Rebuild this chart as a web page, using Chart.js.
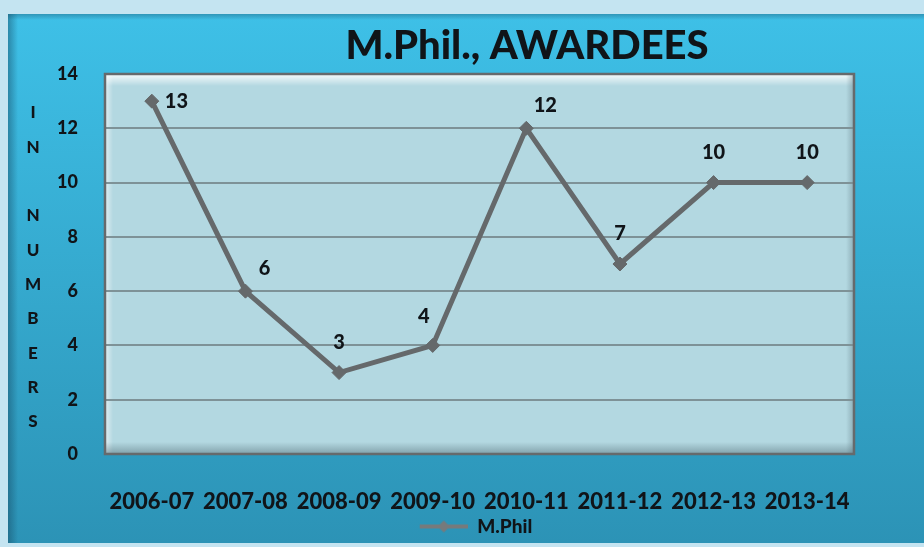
<!DOCTYPE html>
<html>
<head>
<meta charset="utf-8">
<title>M.Phil., AWARDEES</title>
<script src="https://cdn.jsdelivr.net/npm/chart.js@4.4.1/dist/chart.umd.min.js"></script>
<style>
    html, body { margin: 0; padding: 0; background: #c4e4f1; }
    #chart { display: block; }
</style>
</head>
<body>
<canvas id="chart" width="924" height="547"></canvas>
<script>
// ---- data ----
const years = ['2006-07', '2007-08', '2008-09', '2009-10', '2010-11', '2011-12', '2012-13', '2013-14'];
const awardees = [13, 6, 3, 4, 12, 7, 10, 10];
const yTicks = [0, 2, 4, 6, 8, 10, 12, 14];
const yTitleLetters = ['I', 'N', '', 'N', 'U', 'M', 'B', 'E', 'R', 'S'];
const chartTitle = 'M.Phil., AWARDEES';
const seriesName = 'M.Phil';

// where each value label sits next to its point
const labelAlign = ['right', 'above-right', 'above', 'above-left', 'above-right', 'above', 'above', 'above'];

const LINE_GREY = '#65696b';
const TEXT = '#101418';
const FONT = 'Lato, "Open Sans", sans-serif';
const WEIGHT = '900';

// legend key: short line with a diamond, drawn in the right part of a wider box
// so the legend entry sits a little right of centre, like the original
const KEY_W = 96;
function legendKey() {
    const c = document.createElement('canvas');
    c.width = KEY_W; c.height = 16;
    const g = c.getContext('2d');
    const x0 = KEY_W - 48, mid = KEY_W - 24;
    g.strokeStyle = '#767a7c';
    g.lineWidth = 4;
    g.beginPath(); g.moveTo(x0, 8); g.lineTo(KEY_W, 8); g.stroke();
    g.fillStyle = '#767a7c';
    g.beginPath(); g.moveTo(mid, 2); g.lineTo(mid + 6, 8); g.lineTo(mid, 14); g.lineTo(mid - 6, 8); g.closePath(); g.fill();
    return c;
}

// backgrounds, bevelled plot area, title, stacked axis title, value labels
const decor = {
    id: 'decor',
    beforeDraw(chart) {
        const { ctx, chartArea: a, width, height } = chart;
        ctx.save();
        ctx.fillStyle = '#c4e4f1';
        ctx.fillRect(0, 0, width, height);

        // blue panel
        const bx = 8, by = 14, bw = width - bx, bh = 543 - by;
        const pg = ctx.createLinearGradient(0, by, 0, by + bh);
        pg.addColorStop(0, '#3ec0e7');
        pg.addColorStop(1, '#2c93b6');
        ctx.fillStyle = pg;
        ctx.fillRect(bx, by, bw, bh);
        const lg = ctx.createLinearGradient(bx, 0, bx + 10, 0);
        lg.addColorStop(0, 'rgba(20,70,95,0.45)');
        lg.addColorStop(1, 'rgba(20,70,95,0)');
        ctx.fillStyle = lg;
        ctx.fillRect(bx, by, 10, bh);
        const tg = ctx.createLinearGradient(0, by, 0, by + 6);
        tg.addColorStop(0, 'rgba(20,70,95,0.35)');
        tg.addColorStop(1, 'rgba(20,70,95,0)');
        ctx.fillStyle = tg;
        ctx.fillRect(bx, by, bw, 6);

        // plot area with a soft bevel
        const w = a.right - a.left, h = a.bottom - a.top;
        ctx.fillStyle = '#b3d8e1';
        ctx.fillRect(a.left, a.top, w, h);
        let g = ctx.createLinearGradient(0, a.top, 0, a.top + 12);
        g.addColorStop(0, 'rgba(255,255,255,0.9)');
        g.addColorStop(1, 'rgba(255,255,255,0)');
        ctx.fillStyle = g;
        ctx.fillRect(a.left, a.top, w, 12);
        g = ctx.createLinearGradient(a.left, 0, a.left + 8, 0);
        g.addColorStop(0, 'rgba(255,255,255,0.6)');
        g.addColorStop(1, 'rgba(255,255,255,0)');
        ctx.fillStyle = g;
        ctx.fillRect(a.left, a.top, 8, h);
        g = ctx.createLinearGradient(0, a.bottom - 12, 0, a.bottom);
        g.addColorStop(0, 'rgba(70,95,105,0)');
        g.addColorStop(1, 'rgba(70,95,105,0.45)');
        ctx.fillStyle = g;
        ctx.fillRect(a.left, a.bottom - 12, w, 12);
        g = ctx.createLinearGradient(a.right - 8, 0, a.right, 0);
        g.addColorStop(0, 'rgba(70,95,105,0)');
        g.addColorStop(1, 'rgba(70,95,105,0.35)');
        ctx.fillStyle = g;
        ctx.fillRect(a.right - 8, a.top, 8, h);

        // title
        ctx.fillStyle = TEXT;
        ctx.font = WEIGHT + ' 40px ' + FONT;
        ctx.textAlign = 'center';
        ctx.textBaseline = 'middle';
        ctx.fillText(chartTitle, 527, 46);

        // stacked y axis title
        ctx.font = WEIGHT + ' 17px ' + FONT;
        yTitleLetters.forEach((ch, i) => ctx.fillText(ch, 33, 113 + i * 34.3));
        ctx.restore();
    },
    beforeDatasetsDraw(chart) {
        const { ctx, chartArea: a } = chart;
        ctx.save();
        ctx.strokeStyle = '#666a6c';
        ctx.lineWidth = 2.5;
        ctx.strokeRect(a.left, a.top, a.right - a.left, a.bottom - a.top);
        ctx.restore();
    },
    afterDatasetsDraw(chart) {
        const { ctx } = chart;
        const meta = chart.getDatasetMeta(0);
        ctx.save();
        ctx.fillStyle = TEXT;
        ctx.font = WEIGHT + ' 20px ' + FONT;
        ctx.textBaseline = 'middle';
        meta.data.forEach((pt, i) => {
            const pos = labelAlign[i];
            let x = pt.x, y = pt.y;
            if (pos === 'right') { ctx.textAlign = 'left'; x += 13; }
            else if (pos === 'above-right') { ctx.textAlign = 'center'; x += 19; y -= 23; }
            else if (pos === 'above-left') { ctx.textAlign = 'center'; x -= 9; y -= 29; }
            else { ctx.textAlign = 'center'; y -= 30; }
            ctx.fillText(String(awardees[i]), x, y);
        });
        ctx.restore();
    }
};

new Chart(document.getElementById('chart'), {
    type: 'line',
    data: {
        labels: years,
        datasets: [{
            label: seriesName,
            data: awardees,
            borderColor: LINE_GREY,
            backgroundColor: LINE_GREY,
            borderWidth: 5,
            tension: 0,
            pointStyle: 'rectRot',
            pointRadius: 7,
            pointHoverRadius: 7,
            pointBackgroundColor: LINE_GREY,
            pointBorderColor: LINE_GREY,
            pointBorderWidth: 1
        }]
    },
    options: {
        responsive: false,
        animation: false,
        layout: { padding: { top: 74, left: 50, right: 70, bottom: 1 } },
        plugins: {
            title: { display: false },
            tooltip: { enabled: false },
            legend: {
                position: 'bottom',
                labels: {
                    usePointStyle: true,
                    pointStyle: legendKey(),
                    pointStyleWidth: KEY_W,
                    color: TEXT,
                    font: { family: FONT, size: 19, weight: WEIGHT },
                    padding: 6
                }
            }
        },
        scales: {
            x: {
                offset: true,
                grid: { display: false },
                border: { display: false },
                ticks: {
                    color: TEXT,
                    font: { family: FONT, size: 22, weight: WEIGHT },
                    padding: 27,
                    maxRotation: 0,
                    autoSkip: false
                },
                afterFit(scale) { scale.height = 57; }
            },
            y: {
                min: 0,
                max: 14,
                afterBuildTicks(scale) { scale.ticks = yTicks.map(v => ({ value: v })); },
                grid: {
                    color: ctx => (ctx.tick && (ctx.tick.value === 0 || ctx.tick.value === 14)) ? 'rgba(0,0,0,0)' : '#7e9297',
                    lineWidth: 2,
                    drawTicks: false
                },
                border: { display: false },
                ticks: {
                    color: TEXT,
                    font: { family: FONT, size: 18, weight: WEIGHT },
                    padding: 27
                },
                afterFit(scale) { scale.width = 55; }
            }
        }
    },
    plugins: [decor]
});
</script>
</body>
</html>
